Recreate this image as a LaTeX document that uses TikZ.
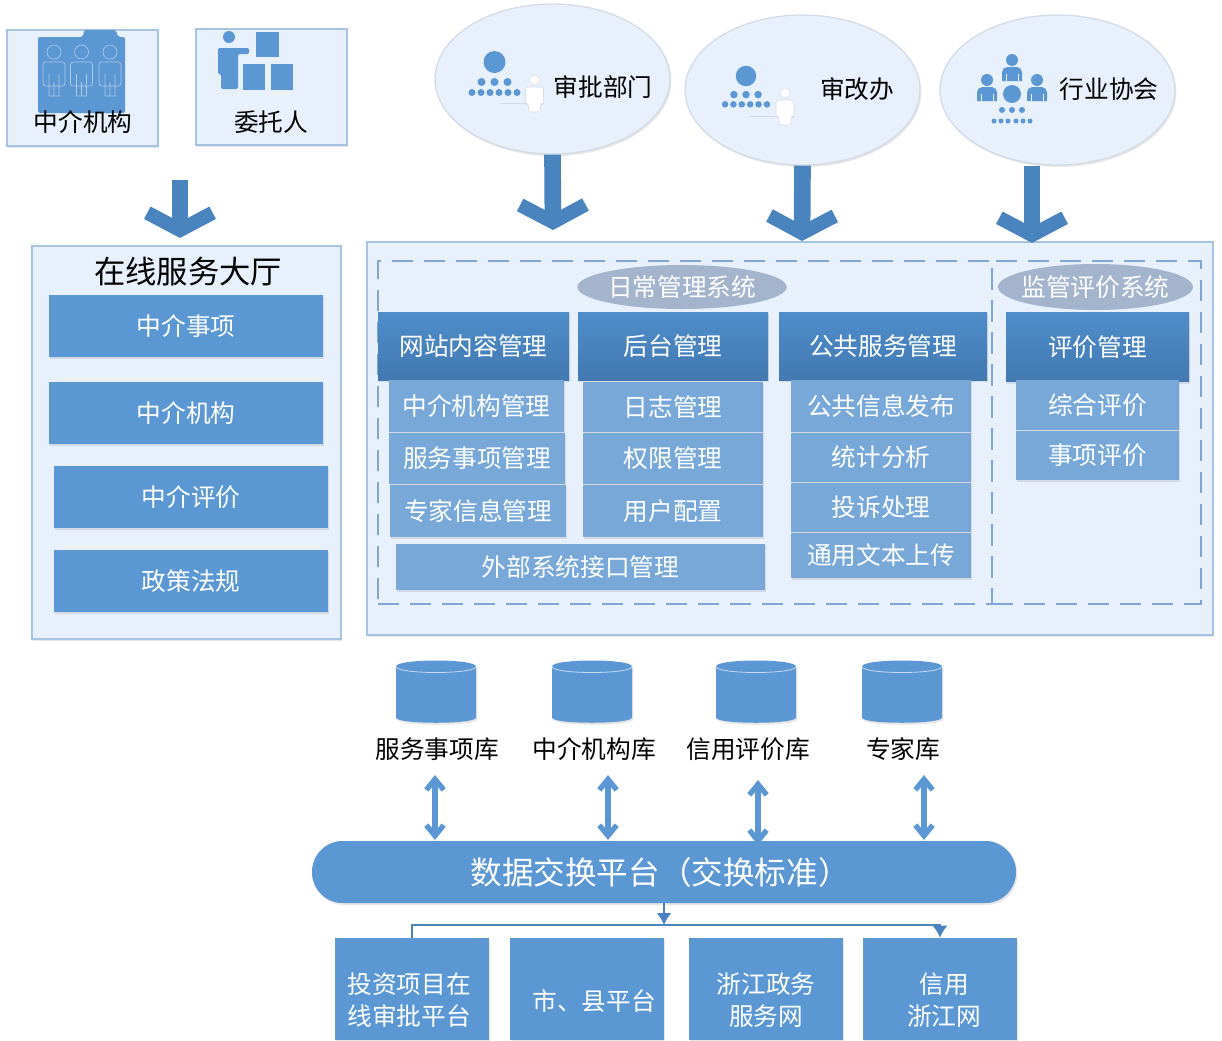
\documentclass[tikz,border=0pt]{standalone}
\usepackage{fontspec}
\usepackage{xcolor}
\usepackage{tikz}
\usetikzlibrary{arrows.meta,positioning,shapes.geometric,shadows}
\setmainfont{Noto Sans CJK SC}
\definecolor{boxblue}{HTML}{5B97D3}
\definecolor{subblue}{HTML}{78A8D8}
\definecolor{headtop}{HTML}{4F8DCB}
\definecolor{headbottom}{HTML}{4279B0}
\definecolor{arrowblue}{HTML}{4A84BE}
\definecolor{panelblue}{HTML}{E7F0FB}
\definecolor{edgeblue}{HTML}{A5C4E3}
\definecolor{dashblue}{HTML}{7FA6D6}
\definecolor{titlegray}{HTML}{A4B4CC}
\definecolor{ovaledge}{HTML}{D3DCE6}
\newcommand{\px}{0.75pt}
\tikzset{
  sized/.style 2 args={minimum width=#1*\px, minimum height=#2*\px, inner sep=0pt},
  softshadow/.style={drop shadow={shadow xshift=1pt, shadow yshift=-1.5pt, opacity=0.2}},
  orgtree/.pic={
    \fill[boxblue] (0,0) circle (11);
    \foreach \dx in {-13,0,13} \fill[boxblue] (\dx,20) circle (4);
    \foreach \dx in {-22.5,-13.5,-4.5,4.5,13.5,22.5} \fill[boxblue] (\dx,30.5) circle (3.5);
  },
  whiteman/.pic={
    \draw[ovaledge, line width=0.5pt] (-35,23) -- (-8,23);
    \fill[white, draw=ovaledge, line width=0.4pt] (0,0) circle (5);
    \fill[white, draw=ovaledge, line width=0.4pt, rounded corners=2pt]
      (-9,24) -- (-9,7) -- (9,7) -- (9,24) -- (6,24) -- (6,32) -- (-6,32) -- (-6,24) -- cycle;
  },
  bluefigure/.pic={
    \fill[boxblue] (0,0) circle (6);
    \fill[boxblue] (-10,21) [rounded corners=4pt] -- (-10,7) -- (10,7) [sharp corners] -- (10,21) -- cycle;
    \draw[panelblue, line width=0.6pt] (-6,14) -- (-6,21) (6,14) -- (6,21);
  },
  outlinefigure/.pic={
    \draw[subblue!60, line width=0.5pt] (0,0) circle (7);
    \draw[subblue!60, line width=0.5pt, rounded corners=2pt]
      (-11,34) -- (-11,10) -- (11,10) -- (11,34) -- cycle
      (-5,44) -- (-5,22) (5,44) -- (5,22) (-5,44) -- (5,44) (0,44) -- (0,30);
  },
  drum/.pic={
    \fill[boxblue, softshadow] (-40,-25) .. controls (-40,-33) and (40,-33) .. (40,-25)
      -- (40,26) .. controls (40,33) and (-40,33) .. (-40,26) -- cycle;
    \draw[white!65!boxblue, line width=0.6pt] (-40,-25) .. controls (-40,-17) and (40,-17) .. (40,-25);
  }
}
\begin{document}
\begin{tikzpicture}[
  x=0.75pt, y=-0.75pt,
  panel/.style={draw=edgeblue, fill=panelblue, line width=1pt, softshadow},
  oval/.style={ellipse, draw=ovaledge, fill=panelblue, line width=1pt, softshadow},
  dashbox/.style={draw=dashblue, line width=0.8pt, dash pattern=on 16pt off 8pt},
  titleoval/.style={ellipse, fill=titlegray, text=white, font=\fontsize{18.5}{24}\selectfont},
  headbox/.style={top color=headtop, bottom color=headbottom, text=white, softshadow,
                  font=\fontsize{18.5}{24}\selectfont},
  subbox/.style={fill=subblue, text=white, softshadow, font=\fontsize{18.5}{24}\selectfont},
  mainbox/.style={fill=boxblue, text=white, softshadow, font=\fontsize{18.5}{24}\selectfont},
  blacktext/.style={text=black, inner sep=0pt, font=\fontsize{18.5}{24}\selectfont},
  whitetext/.style={text=white, inner sep=0pt, align=center, font=\fontsize{18.5}{24}\selectfont},
  bigarrow/.style={draw=arrowblue, line width=12.5pt,
                   -{Straight Barb[length=13pt, width=49pt, line width=10.5pt, sharp]}},
  dataarrow/.style={draw=boxblue, line width=5pt,
                    {Straight Barb[length=8pt, width=13pt, line width=4pt, sharp]}-{Straight Barb[length=8pt, width=13pt, line width=4pt, sharp]}},
  link/.style={draw=arrowblue, line width=1pt},
  linkarrow/.style={link, -{Latex[length=9pt, width=11pt]}}
]
  \useasboundingbox (0,0) rectangle (1222,1040);

  \node[panel, sized={151}{116}] (agentpanel) at (82.5,88) {};
  \node[panel, sized={151}{116}] (clientpanel) at (271.5,87) {};
  \fill[boxblue, rounded corners=1.5pt] (38,113) -- (38,37) -- (83,37) -- (84,30) -- (116,30) -- (118,37) -- (125,37) -- (125,113) -- cycle;
  \pic at (54,52) {outlinefigure};
  \pic at (81.5,52) {outlinefigure};
  \pic at (110,52) {outlinefigure};
  \node[blacktext] (agentlabel) at (83,122) {中介机构};
  \fill[boxblue] (229,37) circle (6);
  \fill[boxblue, rounded corners=1pt] (218,74) -- (218,48) -- (249,48) -- (249,54) -- (238,54) -- (238,89) -- (221,89) -- (221,74) -- cycle;
  \fill[boxblue] (256,32) rectangle (279,57);
  \fill[boxblue] (243,64) rectangle (265,90);
  \fill[boxblue] (271,64) rectangle (293,90);
  \node[blacktext] (clientlabel) at (271,122) {委托人};

  \node[oval, sized={235}{150}] (approval) at (552.5,79) {};
  \node[oval, sized={235}{150}] (reform) at (802.5,90) {};
  \node[oval, sized={235}{150}] (industry) at (1057.5,90) {};
  \pic at (494.5,62) {orgtree};
  \pic at (534.5,80) {whiteman};
  \node[blacktext] (approvallabel) at (603,87) {审批部门};
  \pic[scale=0.93] at (746,76) {orgtree};
  \pic at (785,93) {whiteman};
  \node[blacktext] (reformlabel) at (857,89) {审改办};
  \pic at (1012,60) {bluefigure};
  \pic at (987,80) {bluefigure};
  \pic at (1037,80) {bluefigure};
  \fill[boxblue] (1012,94) circle (9);
  \foreach \dx in {1002,1012,1022} \fill[boxblue] (\dx,110) circle (3);
  \foreach \dx in {994,1001,1008,1016,1023,1030} \fill[boxblue] (\dx,121) circle (2.5);
  \node[blacktext] (industrylabel) at (1109,89) {行业协会};

  \node[panel, sized={309}{393}] (hall) at (186.5,442.5) {};
  \node[text=black, inner sep=0pt, font=\fontsize{23.5}{28}\selectfont] (halltitle) at (188,272) {在线服务大厅};
  \node[mainbox, sized={274}{62}] (hallitem) at (186,326) {中介事项};
  \node[mainbox, sized={274}{62}] (hallagent) at (186,413) {中介机构};
  \node[mainbox, sized={274}{62}] (hallrating) at (191,497) {中介评价};
  \node[mainbox, sized={274}{62}] (halllaw) at (191,581) {政策法规};

  \node[panel, sized={846}{393}] (system) at (790,438.5) {};
  \node[dashbox, sized={614}{343}] (daily) at (685,432.5) {};
  \node[dashbox, sized={209}{343}] (supervise) at (1096.5,432.5) {};
  \node[titleoval, sized={208}{44}] (dailytitle) at (682,287) {日常管理系统};
  \node[titleoval, sized={195}{46}, inner sep=-4pt] (supervisetitle) at (1095.5,287) {监管评价系统};

  \node[headbox, sized={191}{68}] (website) at (473.5,346) {网站内容管理};
  \node[headbox, sized={190}{68}] (backend) at (673,346) {后台管理};
  \node[headbox, sized={208}{68}] (public) at (883,346) {公共服务管理};
  \node[headbox, sized={183}{69}] (rating) at (1097.5,347) {评价管理};

  \node[subbox, sized={175}{52}] (agentmgmt) at (476.5,406) {中介机构管理};
  \node[subbox, sized={176}{51}] (itemmgmt) at (477,458.5) {服务事项管理};
  \node[subbox, sized={176}{52}] (expertmgmt) at (478,511) {专家信息管理};
  \node[subbox, sized={369}{46}] (external) at (580.5,567) {外部系统接口管理};
  \node[subbox, sized={180}{50}] (logmgmt) at (673,407) {日志管理};
  \node[subbox, sized={180}{51}] (rightmgmt) at (673,458.5) {权限管理};
  \node[subbox, sized={180}{52}] (userconf) at (673,511) {用户配置};
  \node[subbox, sized={180}{52}] (notice) at (881,406) {公共信息发布};
  \node[subbox, sized={180}{49}] (stats) at (881,457.5) {统计分析};
  \node[subbox, sized={180}{49}] (complaint) at (881,507.5) {投诉处理};
  \node[subbox, sized={180}{45}] (upload) at (881,555.5) {通用文本上传};
  \node[subbox, sized={163}{50}] (overall) at (1097.5,405) {综合评价};
  \node[subbox, sized={163}{49}] (itemrating) at (1097.5,455.5) {事项评价};

  \pic at (436,691.5) {drum};
  \pic at (592,691.5) {drum};
  \pic at (756,691.5) {drum};
  \pic at (902,691.5) {drum};
  \node[blacktext] (itemlabel) at (437,749) {服务事项库};
  \node[blacktext] (agentdblabel) at (594,749) {中介机构库};
  \node[blacktext] (creditlabel) at (748,749) {信用评价库};
  \node[blacktext] (expertlabel) at (903,749) {专家库};

  \node[mainbox, sized={704}{62}, rounded corners=23pt] (platform) at (664,872) {};
  \node[text=white, inner sep=0pt, font=\fontsize{23.7}{28}\selectfont] (platformlabel) at (660,872) {数据交换平台（交换标准）};

  \node[mainbox, sized={154}{102}] (invest) at (412,989) {};
  \node[mainbox, sized={154}{102}] (city) at (587,989) {};
  \node[mainbox, sized={154}{102}] (zjgov) at (766,989) {};
  \node[mainbox, sized={154}{102}] (credit) at (940,989) {};
  \node[whitetext] (investlabel) at (409,1000) {投资项目在\\线审批平台};
  \node[whitetext] (citylabel) at (594,1001) {市、县平台};
  \node[whitetext] (zjgovlabel) at (766,1000) {浙江政务\\服务网};
  \node[whitetext] (creditlabel2) at (944,1000) {信用\\浙江网};

  \coordinate (halltip) at (180,238);
  \coordinate (approvaltip) at (553,230);
  \coordinate (reformtip) at (802,241);
  \coordinate (industrytip) at (1032,243);
  \coordinate (linkjoin) at (664,925);
  \draw[bigarrow] (180,180) -- (halltip);
  \draw[bigarrow] (approval.south) -- (approvaltip);
  \draw[bigarrow] (reform.south) -- (reformtip);
  \draw[bigarrow] (industrytip |- industry.south) -- (industrytip);

  \draw[dataarrow] (435,775) -- (435,840);
  \draw[dataarrow] (608,775) -- (608,840);
  \draw[dataarrow] (758,780) -- (758,845);
  \draw[dataarrow] (924,775) -- (924,840);

  \draw[linkarrow] (platform.south) -- (linkjoin);
  \draw[linkarrow] (invest.north) |- (linkjoin) -| (credit.north);
\end{tikzpicture}
\end{document}
